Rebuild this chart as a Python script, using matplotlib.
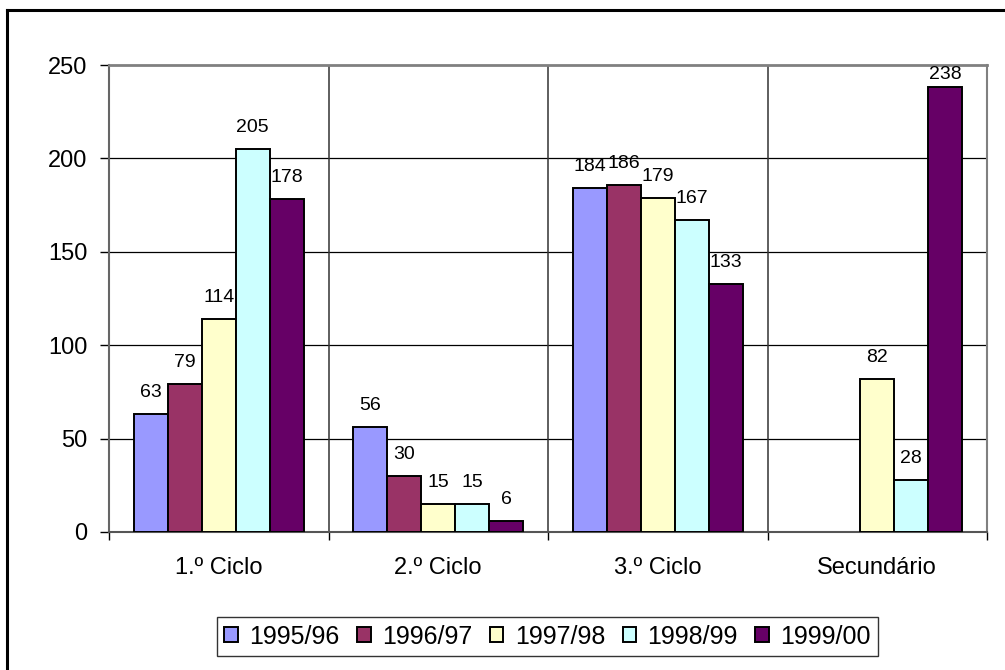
import numpy as np
import matplotlib.pyplot as plt
from matplotlib.lines import Line2D

plt.rcParams['font.family'] = ['Liberation Sans', 'DejaVu Sans']

categories = ["1.º Ciclo", "2.º Ciclo", "3.º Ciclo", "Secundário"]
years = ["1995/96", "1996/97", "1997/98", "1998/99", "1999/00"]
v_9596 = [63, 56, 184, np.nan]
v_9697 = [79, 30, 186, np.nan]
v_9798 = [114, 15, 179, 82]
v_9899 = [205, 15, 167, 28]
v_9900 = [178, 6, 133, 238]
series = [v_9596, v_9697, v_9798, v_9899, v_9900]
colors = ["#9999FF", "#993366", "#FFFFCC", "#CCFFFF", "#660066"]

fig = plt.figure(figsize=(10.05, 6.7), dpi=100)
ax_h = 467  # plot height in pixels
ax = fig.add_axes([109/1005, 1 - 532/670, 878/1005, ax_h/670])

ymax = 250
x = np.arange(len(categories))
w = 0.155
for i, (vals, col, lab) in enumerate(zip(series, colors, years)):
    xs = x + (i - 2) * w
    ax.bar(xs, vals, width=w, color=col, edgecolor="black",
           linewidth=1.4, label=lab, zorder=3)
    for xi, v in zip(xs, vals):
        if np.isnan(v):
            continue
        # Excel keeps labels inside the plot area: clamp near the top
        room = (ymax - v) * ax_h / ymax
        off = min(17, room - 14)
        ax.annotate(str(int(v)), (xi, v), xytext=(0, off), textcoords="offset pixels",
                    ha="center", va="baseline", fontsize=14, zorder=4)

ax.set_xlim(-0.5, 3.5)
ax.set_ylim(0, ymax)
ax.set_yticks(np.arange(0, 251, 50))
ax.tick_params(axis="y", labelsize=17, length=6.5, width=1, pad=9, direction="out")
ax.set_xticks(x)
ax.set_xticklabels(categories)
ax.tick_params(axis="x", which="major", length=0, labelsize=17, pad=18)
ax.set_xticks(np.arange(-0.5, 4, 1), minor=True)
ax.tick_params(axis="x", which="minor", length=6, width=1, direction="out")

for yv in [50, 100, 150, 200]:
    ax.axhline(yv, color="black", linewidth=0.9, zorder=1)
for xv in [0.5, 1.5, 2.5]:
    ax.axvline(xv, color="#333333", linewidth=1.1, zorder=1)

ax.spines["top"].set_color("#808080")
ax.spines["right"].set_color("#808080")
ax.spines["top"].set_linewidth(2)
ax.spines["right"].set_linewidth(1.5)
ax.spines["left"].set_color("#666666")
ax.spines["bottom"].set_color("#555555")
ax.spines["left"].set_linewidth(1.5)
ax.spines["bottom"].set_linewidth(1.5)

leg = fig.legend(loc="center", bbox_to_anchor=(547.5/1005, 1 - 636.5/670), ncol=5,
                 fontsize=18, frameon=True, fancybox=False, edgecolor="black",
                 handlelength=0.55, handleheight=0.55, handletextpad=0.45,
                 columnspacing=0.7, borderpad=0.3, borderaxespad=0)
leg.get_frame().set_linewidth(1)
for h in leg.legend_handles:
    h.set_linewidth(1.4)

# outer chart border (only left and top edges visible)
fig.add_artist(Line2D([7/1005, 7/1005], [-0.1, 1 - 10/670], color="black", linewidth=2.2))
fig.add_artist(Line2D([7/1005, 1.1], [1 - 10/670, 1 - 10/670], color="black", linewidth=2.2))

fig.savefig("out.png", dpi=100)
